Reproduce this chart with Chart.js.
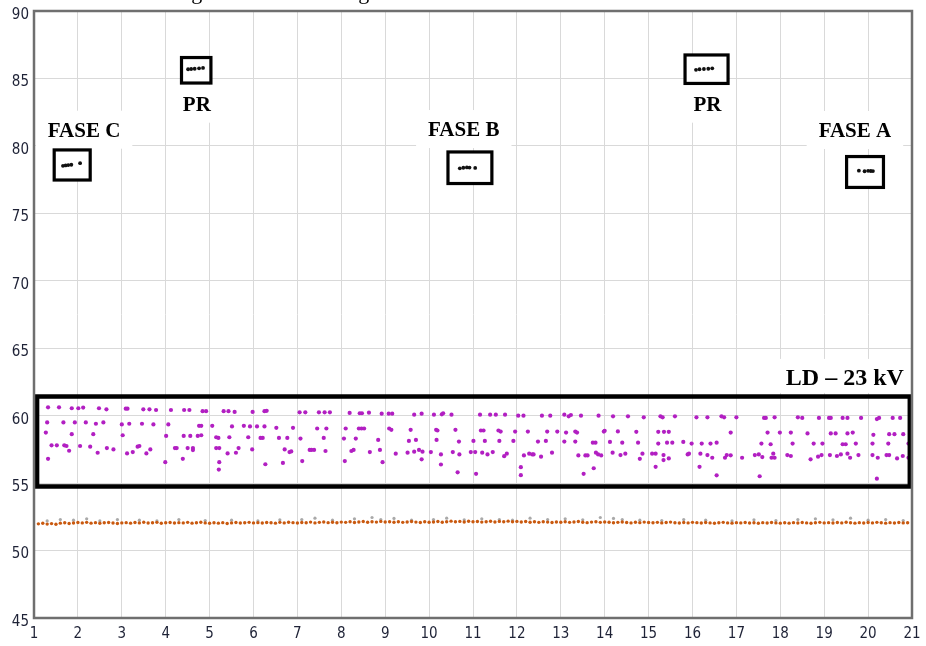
<!DOCTYPE html>
<html>
<head>
<meta charset="utf-8">
<script src="https://cdn.jsdelivr.net/npm/chart.js@4.4.1/dist/chart.umd.min.js"></script>
<style>
html,body{margin:0;padding:0;background:#fff;}
#wrap{width:926px;height:646px;position:relative;}
</style>
</head>
<body>
<div id="wrap"><canvas id="c"></canvas></div>
<script>
// ---------- DATA ----------
const xTicks = [1,2,3,4,5,6,7,8,9,10,11,12,13,14,15,16,17,18,19,20,21];
const yTicks = [45,50,55,60,65,70,75,80,85,90];

// Black points (inside the small boxes: FASE C, PR, FASE B, PR, FASE A)
const blackPts = [
  [1.66,78.52],[1.72,78.55],[1.78,78.58],[1.85,78.60],[2.05,78.72],
  [4.51,85.68],[4.58,85.70],[4.66,85.72],[4.76,85.75],[4.85,85.78],
  [10.70,78.34],[10.78,78.38],[10.86,78.40],[10.92,78.39],[11.05,78.37],
  [16.08,85.64],[16.16,85.68],[16.26,85.70],[16.36,85.72],[16.45,85.75],
  [19.79,78.16],[19.92,78.12],[20.00,78.15],[20.06,78.14],[20.11,78.13]
];

// Purple points (LD – 23 kV)
const purplePts = [
  [1.32,60.62],[1.57,60.62],[1.86,60.55],[2.01,60.55],[2.12,60.6],[2.48,60.55],[2.65,60.47],[3.09,60.52],[3.13,60.52],[3.49,60.47],[3.63,60.47],[3.78,60.42],[4.12,60.42],[4.42,60.42],[4.54,60.42],[4.84,60.33],[4.92,60.33],[5.32,60.33],[5.43,60.33],[5.57,60.28],[5.98,60.28],[6.25,60.33],[6.30,60.36],
  [1.30,59.5],[1.27,58.75],[1.67,59.5],[1.93,59.5],[2.18,59.5],[2.41,59.4],[2.58,59.5],[3.00,59.35],[3.17,59.4],[3.46,59.4],[3.72,59.35],[4.06,59.35],[4.76,59.25],[4.81,59.25],[5.06,59.25],[5.51,59.2],[5.78,59.25],[5.92,59.2],[6.08,59.2],[6.25,59.2],[6.52,59.1],[6.90,59.1],
  [1.86,58.63],[2.35,58.63],[3.02,58.55],[4.01,58.5],[4.41,58.5],[4.56,58.5],[4.73,58.5],[4.81,58.55],[5.15,58.4],[5.20,58.35],[5.45,58.4],[5.88,58.4],[6.16,58.35],[6.21,58.35],[6.58,58.35],[6.77,58.35],
  [1.40,57.8],[1.52,57.8],[1.69,57.8],[1.74,57.75],[1.80,57.4],[2.05,57.75],[2.28,57.7],[2.45,57.25],[2.66,57.6],[2.81,57.5],[3.12,57.2],[3.25,57.3],[3.36,57.7],[3.40,57.75],[3.56,57.2],[3.65,57.5],[4.21,57.6],[4.25,57.6],[4.50,57.6],[4.62,57.6],[4.62,57.45],[5.15,57.6],[5.22,57.6],[5.41,57.2],[5.60,57.25],[5.66,57.6],[5.97,57.5],[6.71,57.5],[6.82,57.3],[6.86,57.35],
  [1.32,56.8],[3.99,56.55],[4.39,56.8],[5.22,56.55],[5.21,56.0],[6.27,56.4],[6.67,56.5],
  [7.05,60.25],[7.18,60.25],[7.49,60.25],[7.62,60.25],[7.74,60.25],[8.19,60.2],[8.42,60.18],[8.47,60.18],[8.63,60.22],[8.92,60.15],[9.08,60.15],[9.16,60.15],[9.66,60.07],[9.83,60.15],[10.11,60.07],[10.29,60.1],[10.32,60.18],[10.51,60.07],[11.16,60.07],[11.39,60.07],[11.52,60.07],[11.73,60.07],[12.03,60.0],[12.15,60.0],[12.57,60.0],[12.76,60.0],[13.08,60.07],[13.18,59.95],[13.23,60.05],[13.46,60.0],[13.86,60.0],
  [7.45,59.05],[7.66,59.05],[8.10,59.05],[8.40,59.05],[8.46,59.05],[8.52,59.05],[9.09,59.05],[9.14,58.95],[9.58,58.95],[10.16,58.95],[10.19,58.9],[10.60,58.95],[11.18,58.9],[11.24,58.9],[11.58,58.9],[11.63,58.82],[11.96,58.82],[12.25,58.82],[12.69,58.82],[12.92,58.82],[13.12,58.75],[13.33,58.82],[13.37,58.75],[13.98,58.82],
  [7.07,58.3],[7.60,58.35],[8.06,58.3],[8.33,58.3],[8.84,58.2],[9.54,58.13],[9.70,58.2],[10.17,58.2],[10.68,58.08],[11.01,58.13],[11.27,58.13],[11.60,58.13],[11.92,58.13],[12.48,58.08],[12.66,58.13],[13.08,58.08],[13.33,58.08],[13.73,58.0],[13.79,58.0],
  [7.28,57.46],[7.32,57.46],[7.38,57.46],[7.64,57.38],[8.23,57.38],[8.28,57.46],[8.65,57.3],[8.88,57.46],[9.24,57.18],[9.51,57.26],[9.66,57.33],[9.77,57.46],[9.85,57.33],[10.04,57.3],[10.27,57.13],[10.54,57.3],[10.69,57.13],[10.95,57.3],[11.05,57.3],[11.21,57.26],[11.33,57.13],[11.45,57.3],[11.71,57.0],[11.77,57.18],[12.16,57.05],[12.28,57.18],[12.35,57.13],[12.38,57.13],[12.55,56.96],[12.80,57.26],[13.40,57.05],[13.56,57.05],[13.61,57.05],[13.80,57.26],[13.85,57.13],[13.92,57.05],
  [7.11,56.63],[8.08,56.63],[8.94,56.55],[9.83,56.76],[10.27,56.38],[10.65,55.8],[11.07,55.69],[12.09,56.18],[12.09,55.59],[13.52,55.69],[13.75,56.1],
  [14.19,59.95],[14.53,59.95],[14.89,59.88],[15.27,59.95],[15.32,59.88],[15.60,59.95],[16.09,59.88],[16.34,59.88],[16.66,59.95],[16.72,59.88],[17.00,59.88],[17.63,59.83],[17.67,59.83],[17.87,59.88],[18.40,59.88],[18.50,59.83],[18.88,59.83],[19.11,59.83],[19.15,59.83],[19.42,59.83],[19.53,59.83],[19.84,59.83],[20.20,59.75],[20.25,59.83],[20.56,59.83],[20.73,59.83],
  [14.00,58.88],[14.30,58.83],[14.72,58.8],[15.22,58.8],[15.35,58.8],[15.46,58.8],[16.87,58.75],[17.71,58.75],[17.99,58.75],[18.24,58.75],[18.62,58.68],[19.15,58.68],[19.26,58.68],[19.53,58.68],[19.65,58.75],[20.12,58.58],[20.48,58.63],[20.60,58.63],[20.80,58.63],
  [14.12,58.05],[14.40,58.0],[14.76,58.0],[15.22,57.93],[15.42,58.0],[15.54,58.0],[15.79,58.05],[15.98,57.93],[16.21,57.93],[16.41,57.93],[16.55,58.0],[17.57,57.93],[17.78,57.88],[18.28,57.93],[18.76,57.93],[18.96,57.93],[19.42,57.88],[19.49,57.88],[19.72,57.93],[20.10,57.93],[20.46,57.93],[20.92,57.93],
  [14.18,57.26],[14.36,57.08],[14.47,57.18],[14.80,56.8],[14.86,57.18],[15.08,57.18],[15.16,57.18],[15.34,56.71],[15.34,57.08],[15.46,56.83],[15.16,56.21],[15.89,57.13],[15.92,57.18],[16.16,56.21],[16.18,57.18],[16.34,57.08],[16.45,56.88],[16.55,55.58],[16.74,56.88],[16.78,57.08],[16.87,57.06],[17.13,56.88],[17.42,57.08],[17.51,57.13],[17.53,55.51],[17.59,56.93],[17.80,56.88],[17.87,56.88],[17.84,57.18],[18.16,57.08],[18.24,57.01],[18.69,56.76],[18.86,56.96],[18.94,57.08],[19.13,57.08],[19.29,57.01],[19.38,57.13],[19.53,57.18],[19.59,56.88],[19.78,57.08],[20.10,57.08],[20.22,56.88],[20.20,55.33],[20.42,57.08],[20.48,57.08],[20.66,56.83],[20.79,57.01],[20.92,56.88]
];

// Orange series: sampled every 0.1 from x = 1.1
const orangeStart = 1.1, orangeStep = 0.1;
const orangeY = [
  51.98,52.02,51.96,52.00,51.95,52.03,52.06,52.01,52.04,52.08,
  52.05,52.09,52.03,52.07,52.02,52.06,52.08,52.04,52.01,52.05,
  52.07,52.03,52.08,52.05,52.10,52.04,52.06,52.09,52.02,52.06,
  52.08,52.04,52.07,52.05,52.09,52.03,52.06,52.10,52.05,52.02,
  52.06,52.03,52.07,52.01,52.05,52.08,52.04,52.06,52.09,52.05,
  52.07,52.04,52.08,52.06,52.03,52.09,52.05,52.10,52.07,52.04,
  52.08,52.06,52.11,52.05,52.09,52.12,52.07,52.10,52.06,52.11,
  52.09,52.13,52.08,52.12,52.15,52.10,52.14,52.11,52.16,52.12,
  52.14,52.10,52.13,52.09,52.12,52.15,52.11,52.08,52.13,52.10,
  52.12,52.15,52.10,52.14,52.18,52.13,52.16,52.12,52.17,52.14,
  52.15,52.11,52.14,52.17,52.12,52.16,52.13,52.18,52.14,52.16,
  52.12,52.15,52.10,52.13,52.09,52.14,52.11,52.08,52.12,52.10,
  52.13,52.09,52.12,52.15,52.10,52.07,52.11,52.14,52.09,52.12,
  52.10,52.06,52.09,52.12,52.08,52.05,52.10,52.07,52.11,52.08,
  52.06,52.09,52.05,52.08,52.11,52.06,52.04,52.08,52.05,52.09,
  52.07,52.04,52.08,52.05,52.02,52.06,52.09,52.05,52.03,52.07,
  52.05,52.08,52.04,52.06,52.02,52.07,52.04,52.08,52.05,52.03,
  52.06,52.03,52.07,52.04,52.08,52.05,52.02,52.06,52.09,52.05,
  52.07,52.04,52.08,52.05,52.10,52.06,52.03,52.07,52.04,52.08,
  52.05,52.09,52.06,52.03,52.07,52.04,52.08,52.05,52.06
];

// Gray series
const grayX = [1.3,1.6,1.9,2.2,2.5,2.9,3.4,3.8,4.3,4.9,5.5,6.1,6.6,7.1,7.4,7.8,8.3,8.7,8.9,9.2,9.6,10.1,10.4,10.8,11.2,11.6,11.9,12.3,12.7,13.1,13.5,13.9,14.2,14.4,14.8,15.3,15.8,16.3,16.9,17.4,17.9,18.4,18.8,19.2,19.6,20.0,20.4,20.8];
const grayY = [52.2,52.3,52.25,52.35,52.2,52.3,52.25,52.2,52.3,52.22,52.25,52.2,52.28,52.3,52.4,52.25,52.35,52.45,52.3,52.38,52.25,52.3,52.4,52.28,52.35,52.3,52.25,52.4,52.3,52.35,52.28,52.45,52.38,52.3,52.25,52.22,52.3,52.25,52.2,52.28,52.22,52.3,52.35,52.28,52.4,52.25,52.3,52.22];

// ---------- ANNOTATIONS (in data units) ----------
const smallBoxes = [
  {x0:1.46, x1:2.28, y0:77.47, y1:79.70},
  {x0:4.36, x1:5.03, y0:84.66, y1:86.55},
  {x0:10.43, x1:11.43, y0:77.21, y1:79.55},
  {x0:15.83, x1:16.81, y0:84.63, y1:86.74},
  {x0:19.51, x1:20.35, y0:76.92, y1:79.21}
];
const bigBox = {x0:1.07, x1:20.95, y0:54.75, y1:61.42};
const labelTexts = ['FASE C','PR','FASE B','PR','FASE A','LD – 23 kV'];
const labelPos = [[2.14,80.68],[4.71,82.61],[10.79,80.73],[16.34,82.61],[19.70,80.66],[19.47,62.28]];
const titleText = 'Figura 5.3 – Gráfico gerado na análise dos dados da LD de 23 kV';

// ---------- CHART ----------
const annot = {
  id:'annot',
  beforeDatasetsDraw(chart){
    const ctx = chart.ctx, xs = chart.scales.x, ys = chart.scales.y;
    ctx.save();
    labelTexts.forEach((t,i)=>{
      const big = i===5;
      ctx.font = 'bold '+(big?24:21)+'px "Liberation Serif","Times New Roman",serif';
      const w = ctx.measureText(t).width;
      const cx = xs.getPixelForValue(labelPos[i][0]);
      const by = ys.getPixelForValue(labelPos[i][1]);
      ctx.fillStyle = '#fff';
      ctx.fillRect(cx - w/2 - 12, by - 26, w + 24, big?34:38);
    });
    smallBoxes.forEach(b=>{
      const l = xs.getPixelForValue(b.x0), r = xs.getPixelForValue(b.x1);
      const t = ys.getPixelForValue(b.y1), bt = ys.getPixelForValue(b.y0);
      ctx.fillStyle = '#fff';
      ctx.fillRect(l, t, r-l, bt-t);
      ctx.lineWidth = 3.2;
      ctx.strokeStyle = '#000';
      ctx.strokeRect(l, t, r-l, bt-t);
    });
    ctx.fillStyle = '#000';
    ctx.textAlign = 'center';
    ctx.textBaseline = 'alphabetic';
    labelTexts.forEach((t,i)=>{
      const big = i===5;
      ctx.font = 'bold '+(big?24:21)+'px "Liberation Serif","Times New Roman",serif';
      ctx.fillText(t, xs.getPixelForValue(labelPos[i][0]), ys.getPixelForValue(labelPos[i][1]));
    });
    ctx.restore();
  },
  afterDatasetsDraw(chart){
    const ctx = chart.ctx, xs = chart.scales.x, ys = chart.scales.y;
    const a = chart.chartArea;
    ctx.save();
    const l = xs.getPixelForValue(bigBox.x0), r = xs.getPixelForValue(bigBox.x1);
    const t = ys.getPixelForValue(bigBox.y1), b = ys.getPixelForValue(bigBox.y0);
    ctx.lineWidth = 4.5;
    ctx.strokeStyle = '#000';
    ctx.strokeRect(l, t, r-l, b-t);
    ctx.lineWidth = 2.5;
    ctx.strokeStyle = '#6f6f6f';
    ctx.strokeRect(a.left, a.top, a.right-a.left, a.bottom-a.top);
    // cut-off caption at top edge
    ctx.fillStyle = '#000';
    ctx.font = '22px "Liberation Serif","Times New Roman",serif';
    ctx.textAlign = 'center';
    ctx.textBaseline = 'alphabetic';
    ctx.fillText(titleText, 462, -1.5);
    ctx.restore();
  }
};

const tickFont = {family:'"DejaVu Sans Condensed","Liberation Sans Narrow","DejaVu Sans",sans-serif', size:15};

new Chart(document.getElementById('c'), {
  type:'scatter',
  data:{
    datasets:[
      {label:'PR / Fases', data: blackPts.map(p=>({x:p[0],y:p[1]})), backgroundColor:'#111', pointRadius:1.9, pointBorderWidth:0, order:0},
      {label:'LD – 23 kV', data: purplePts.map(p=>({x:p[0],y:p[1]})), backgroundColor:'#b21fc2', pointRadius:2.1, pointBorderWidth:0, order:1},
      {label:'Série laranja', data: orangeY.map((v,i)=>({x:orangeStart + i*orangeStep, y:v})), backgroundColor:'#c9590f', pointRadius:1.7, pointBorderWidth:0, order:2},
      {label:'Série cinza', data: grayX.map((v,i)=>({x:v, y:grayY[i]})), backgroundColor:'#a9a9a9', pointRadius:1.6, pointBorderWidth:0, order:3}
    ]
  },
  options:{
    responsive:true,
    maintainAspectRatio:false,
    animation:false,
    events:[],
    layout:{padding:{top:11,right:14,left:0,bottom:0}},
    plugins:{legend:{display:false},tooltip:{enabled:false},title:{display:false}},
    scales:{
      x:{
        type:'linear', min:1, max:21,
        afterBuildTicks(s){ s.ticks = xTicks.map(v=>({value:v})); },
        afterFit(s){ s.height = 28; s.paddingLeft = 0; s.paddingRight = 0; },
        grid:{color:'#d9d9d9', lineWidth:1, drawTicks:false},
        border:{display:false},
        ticks:{font:tickFont, color:'#1e2236', padding:7, maxRotation:0, autoSkip:false}
      },
      y:{
        type:'linear', min:45, max:90,
        afterBuildTicks(s){ s.ticks = yTicks.map(v=>({value:v})); },
        afterFit(s){ s.width = 34; s.paddingTop = 0; s.paddingBottom = 0; },
        grid:{color:'#d9d9d9', lineWidth:1, drawTicks:false},
        border:{display:false},
        ticks:{font:tickFont, color:'#1e2236', padding:5, labelOffset:4, autoSkip:false}
      }
    }
  },
  plugins:[annot]
});
</script>
</body>
</html>
